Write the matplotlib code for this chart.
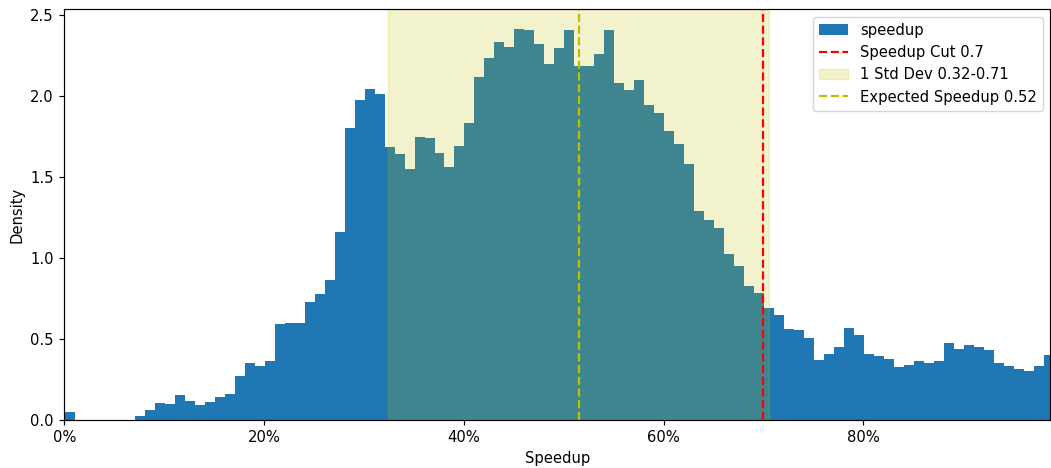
import numpy as np
import matplotlib
matplotlib.use("Agg")
import matplotlib.pyplot as plt
from matplotlib.ticker import PercentFormatter

# Histogram bins (speedup fraction), width 0.01
bin_start = 0.0007
bin_width = 0.01
density = [
    0.051, 0.0, 0.0, 0.0, 0.0, 0.0, 0.0, 0.025, 0.060, 0.105,
    0.099, 0.154, 0.117, 0.091, 0.111, 0.140, 0.160, 0.272, 0.350, 0.335,
    0.366, 0.593, 0.597, 0.599, 0.728, 0.776, 0.866, 1.159, 1.802, 1.975,
    2.045, 2.012, 1.683, 1.640, 1.547, 1.747, 1.741, 1.648, 1.562, 1.693,
    1.831, 2.115, 2.233, 2.331, 2.300, 2.414, 2.407, 2.319, 2.200, 2.294,
    2.405, 2.183, 2.187, 2.259, 2.409, 2.082, 2.039, 2.097, 1.947, 1.897,
    1.782, 1.702, 1.578, 1.292, 1.233, 1.187, 1.025, 0.951, 0.827, 0.786,
    0.691, 0.646, 0.560, 0.556, 0.504, 0.372, 0.407, 0.449, 0.566, 0.525,
    0.407, 0.397, 0.378, 0.329, 0.341, 0.366, 0.350, 0.366, 0.473, 0.440,
    0.465, 0.449, 0.432, 0.350, 0.333, 0.317, 0.300, 0.333, 0.399,
]

speedup_cut = 0.7
expected = 0.5155
std_low = 0.3245
std_high = 0.706

s = 1.06
plt.rcParams.update({
    "font.size": 10 * s,
    "axes.linewidth": 0.8 * s,
    "xtick.major.size": 3.5 * s,
    "ytick.major.size": 3.5 * s,
    "xtick.major.width": 0.8 * s,
    "ytick.major.width": 0.8 * s,
    "xtick.major.pad": 3.5 * s,
    "ytick.major.pad": 3.5 * s,
    "lines.linewidth": 1.5 * s,
})

edges = bin_start + bin_width * np.arange(len(density) + 1)
centers = (edges[:-1] + edges[1:]) / 2

fig = plt.figure(figsize=(10.51, 4.68), dpi=100)
ax = fig.add_axes([64.3 / 1051, 1 - 420 / 468, (1050 - 64.3) / 1051, (420 - 9.3) / 468])

ax.hist(centers, bins=edges, weights=density, color="#1f77b4", label="speedup")
ax.axvline(speedup_cut, color="r", linestyle="--", label=f"Speedup Cut {speedup_cut}")
ax.axvspan(std_low, std_high, color="y", alpha=0.2,
           label=f"1 Std Dev {std_low:.2f}-{std_high:.2f}")
ax.axvline(expected, color="y", linestyle="--", label=f"Expected Speedup {expected:.2f}")

ax.set_xlim(0, 0.987)
ax.set_ylim(0, 2.535)
ax.xaxis.set_major_formatter(PercentFormatter(1.0, decimals=0))
ax.set_xticks([0, 0.2, 0.4, 0.6, 0.8])
ax.set_xlabel("Speedup")
ax.set_ylabel("Density")
ax.legend(loc="upper right")

fig.savefig("out.png", dpi=100)
